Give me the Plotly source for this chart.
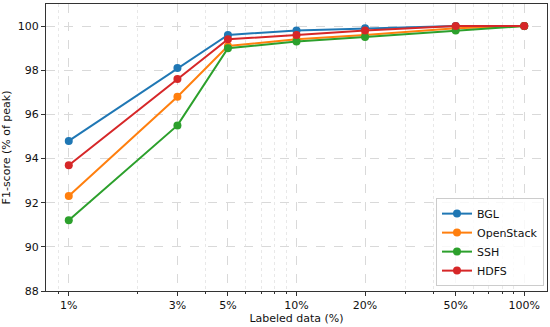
import plotly.graph_objects as go

labeled = [1, 3, 5, 10, 20, 50, 100]
tick_labels = ["1%", "3%", "5%", "10%", "20%", "50%", "100%"]
minor_vals = [0.9, 2, 4, 6, 7, 8, 9, 30, 40, 60, 70, 80, 90]
bgl = [94.8, 98.1, 99.6, 99.8, 99.9, 100.0, 100.0]
openstack = [92.3, 96.8, 99.1, 99.4, 99.6, 99.9, 100.0]
ssh = [91.2, 95.5, 99.0, 99.3, 99.5, 99.8, 100.0]
hdfs = [93.7, 97.6, 99.4, 99.6, 99.8, 100.0, 100.0]

series = [("BGL", bgl, "#1f77b4"), ("OpenStack", openstack, "#ff7f0e"),
          ("SSH", ssh, "#2ca02c"), ("HDFS", hdfs, "#d62728")]

fig = go.Figure()
for name, vals, col in series:
    fig.add_trace(go.Scatter(x=labeled, y=vals, name=name, mode="lines+markers",
                             line=dict(color=col, width=2),
                             marker=dict(color=col, size=8)))

fig.update_layout(
    width=550, height=327,
    margin=dict(l=46, r=3, t=4, b=36),
    paper_bgcolor="white", plot_bgcolor="white",
    font=dict(family="DejaVu Sans", size=11, color="#111"),
    showlegend=True,
    legend=dict(x=0.994, y=0.017, xanchor="right", yanchor="bottom",
                bordercolor="#cccccc", borderwidth=1, bgcolor="rgba(255,255,255,0.8)",
                font=dict(family="DejaVu Sans", size=11, color="#111"),
                tracegroupgap=0, itemwidth=30),
    xaxis=dict(type="log", range=[-0.1, 2.1], automargin=False,
               tickvals=labeled, ticktext=tick_labels,
               ticks="outside", ticklen=4, tickcolor="#333",
               showgrid=True, gridcolor="#d9d9d9", griddash="dash", gridwidth=0.8,
               minor=dict(tickvals=minor_vals, showgrid=True, gridcolor="#e8e8e8",
                          griddash="dot", ticks="outside", ticklen=2, tickcolor="#333"),
               showline=True, linecolor="#333", linewidth=1, mirror=True,
               zeroline=False,
               title=dict(text="Labeled data (%)", standoff=2,
                          font=dict(family="DejaVu Sans", size=11))),
    yaxis=dict(range=[88, 101], tickvals=[88, 90, 92, 94, 96, 98, 100],
               automargin=False,
               ticks="outside", ticklen=4, tickcolor="#333",
               showgrid=True, gridcolor="#d9d9d9", griddash="dash", gridwidth=0.8,
               showline=True, linecolor="#333", linewidth=1, mirror=True,
               zeroline=False,
               title=dict(text="F1-score (% of peak)", standoff=4,
                          font=dict(family="DejaVu Sans", size=11))),
)

fig.write_html("out.html", config={"displayModeBar": False},
               post_script="document.body.style.margin='0';")
